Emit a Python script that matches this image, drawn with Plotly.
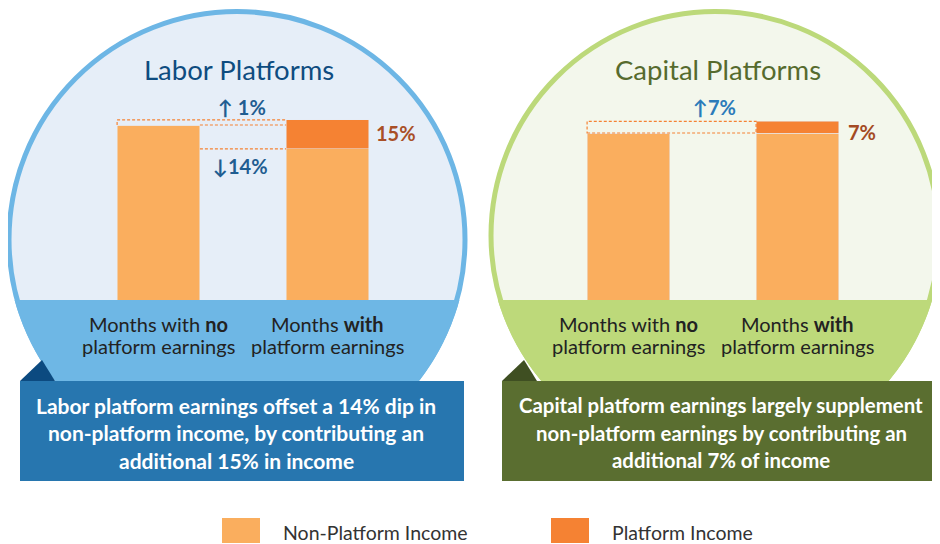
import numpy as np
import plotly.graph_objects as go

W, H = 940, 544
OFF = 8  # page body margin of the html page

# ---------------- data ----------------
categories = ["Months with <b>no</b><br>platform earnings", "Months <b>with</b><br>platform earnings"]
series_names = ["Non-Platform Income", "Platform Income"]
labor_non_platform = [100, 86.3]
labor_platform = [0, 16.6]
capital_non_platform = [100, 100]
capital_platform = [0, 7]
panel_titles = ["Labor Platforms", "Capital Platforms"]
labor_change_labels = ["↑ 1%", "↓14%", "15%"]
capital_change_labels = ["↑7%", "7%"]
callouts = [
    ["Labor platform earnings offset a 14% dip in",
     "non-platform income, by contributing an",
     "additional 15% in income"],
    ["Capital platform earnings largely supplement",
     "non-platform earnings by contributing an",
     "additional 7% of income"],
]

# ---------------- styling ----------------
C_NON = "#FAAE5E"
C_PLAT = "#F58233"
FONT = "Lato"


def px(x):
    return (x - OFF) / W


def py(y):
    return 1 - (y - OFF) / H


def text(t, x, y, size, color, **kw):
    d = dict(text=t, x=px(x), y=py(y), xref="paper", yref="paper", showarrow=False,
             xanchor="center", yanchor="middle", font=dict(family=FONT, size=size, color=color))
    d.update(kw)
    return d


fig = go.Figure()
xs = [0, 1]
bw = 0.49
fig.add_trace(go.Bar(x=xs, y=labor_non_platform, marker_color=C_NON, width=bw,
                     name=series_names[0], xaxis="x", yaxis="y", showlegend=False))
fig.add_trace(go.Bar(x=xs, y=labor_platform, marker_color=C_PLAT, width=bw,
                     name=series_names[1], xaxis="x", yaxis="y", showlegend=False))
fig.add_trace(go.Bar(x=xs, y=capital_non_platform, marker_color=C_NON, width=bw,
                     name=series_names[0], xaxis="x2", yaxis="y2", showlegend=False))
fig.add_trace(go.Bar(x=xs, y=capital_platform, marker_color=C_PLAT, width=bw,
                     name=series_names[1], xaxis="x2", yaxis="y2", showlegend=False))

shapes = []
annotations = []


def circle_panel(cx, cy, R, fill, line, band, box_x0, box_x1, box_col, tri_col):
    shapes.append(dict(type="circle", xref="paper", yref="paper", layer="below",
                       x0=px(cx - R), x1=px(cx + R), y0=py(cy + R), y1=py(cy - R),
                       fillcolor=fill, line=dict(color=line, width=5)))
    Rb = R + 2.5
    ys = np.linspace(300, 382, 30)
    xr = cx + np.sqrt(np.maximum(Rb ** 2 - (ys - cy) ** 2, 0))
    xl = cx - np.sqrt(np.maximum(Rb ** 2 - (ys - cy) ** 2, 0))
    pts = [(x, y) for x, y in zip(xr, ys)] + [(x, y) for x, y in zip(xl[::-1], ys[::-1])]
    path = "M " + " L ".join(f"{px(x):.5f},{py(y):.5f}" for x, y in pts) + " Z"
    shapes.append(dict(type="path", xref="paper", yref="paper", layer="below",
                       path=path, fillcolor=band, line=dict(width=0)))
    tri = [(box_x0, 381), (box_x0 + 22, 360), (box_x0 + 35, 381)]
    path = "M " + " L ".join(f"{px(x):.5f},{py(y):.5f}" for x, y in tri) + " Z"
    shapes.append(dict(type="path", xref="paper", yref="paper", layer="below",
                       path=path, fillcolor=tri_col, line=dict(width=0)))
    shapes.append(dict(type="rect", xref="paper", yref="paper", layer="below",
                       x0=px(box_x0), x1=px(box_x1), y0=py(481), y1=py(381),
                       fillcolor=box_col, line=dict(width=0)))


circle_panel(237, 239.5, 228, "#E6EEF8", "#6DB6E5", "#6EB7E5", 20, 464, "#2776AF", "#0C4A80")
circle_panel(715, 235.5, 224, "#F3F7EC", "#BCD97A", "#BDD97A", 502, 960, "#5A6E30", "#3F4F22")

# dashed guide lines
dash = dict(color=C_PLAT, width=1.2, dash="3px,2px")
lab_total = labor_non_platform[1] + labor_platform[1]
L0, R0, L1 = -bw / 2, bw / 2, 1 - bw / 2
for (x0, y0, x1, y1) in [(L0, labor_non_platform[0], L0, lab_total),
                         (L0, lab_total, L1, lab_total),
                         (R0, labor_non_platform[0], L1, labor_non_platform[0]),
                         (R0, labor_non_platform[1], L1, labor_non_platform[1])]:
    shapes.append(dict(type="line", xref="x", yref="y", x0=x0, y0=y0, x1=x1, y1=y1,
                       line=dash, layer="above"))
cap_total = capital_non_platform[1] + capital_platform[1]
shapes.append(dict(type="rect", xref="x2", yref="y2", x0=L0, x1=L1,
                   y0=capital_non_platform[0], y1=cap_total, line=dash, layer="above"))

# legend squares + labels
for (x0, col) in [(222, C_NON), (551, C_PLAT)]:
    shapes.append(dict(type="rect", xref="paper", yref="paper", layer="below",
                       x0=px(x0), x1=px(x0 + 38), y0=py(543), y1=py(518),
                       fillcolor=col, line=dict(width=0)))
annotations.append(text(series_names[0], 282, 532, 19.5, "#333333", xanchor="left", borderpad=0))
annotations.append(text(series_names[1], 611, 532, 19.5, "#333333", xanchor="left", borderpad=0))

# titles
annotations.append(text(panel_titles[0], 239, 69, 27.5, "#0E4C80"))
annotations.append(text(panel_titles[1], 718, 69, 27.5, "#566B2E"))

# category labels (two lines each)
for xa in ["x", "x2"]:
    for i, c in enumerate(categories):
        for k, ln in enumerate(c.split("<br>")):
            annotations.append(dict(text=ln, x=xs[i], xref=xa, y=py(324 + 22 * k), yref="paper",
                                    showarrow=False, xanchor="center", yanchor="middle",
                                    font=dict(family=FONT, size=20, color="#222222")))

bold = lambda s: f"<b>{s}</b>"
annotations += [
    text(bold(labor_change_labels[0]), 242, 107, 20, "#1F5D91"),
    text(bold(labor_change_labels[1]), 240, 166, 20, "#1F5D91"),
    text(bold(labor_change_labels[2]), 396, 133, 20, "#A94F27"),
    text(bold(capital_change_labels[0]), 714, 107, 20, "#2B7BBA"),
    text(bold(capital_change_labels[1]), 862, 132, 20, "#A34A23"),
]

for cxp, lines, fs in [(236, callouts[0], 21), (721, callouts[1], 20.4)]:
    for k, ln in enumerate(lines):
        annotations.append(text(bold(ln), cxp, 405 + 27.5 * k, fs, "white"))

axis_common = dict(showgrid=False, zeroline=False, showticklabels=False, showline=False,
                   fixedrange=True)
fig.update_layout(
    width=W, height=H,
    margin=dict(l=0, r=0, t=0, b=0),
    paper_bgcolor="white", plot_bgcolor="rgba(0,0,0,0)",
    barmode="stack", showlegend=False,
    xaxis=dict(domain=[px(74), px(412)], range=[-0.5, 1.5], **axis_common),
    yaxis=dict(domain=[py(300), py(90)], range=[0, 210 / 1.75], **axis_common),
    xaxis2=dict(domain=[px(544), px(882)], range=[-0.5, 1.5], anchor="y2", **axis_common),
    yaxis2=dict(domain=[py(300), py(90)], range=[0, 210 / 1.67], anchor="x2", **axis_common),
    shapes=shapes,
    annotations=annotations,
)

fig.write_html("out.html")
